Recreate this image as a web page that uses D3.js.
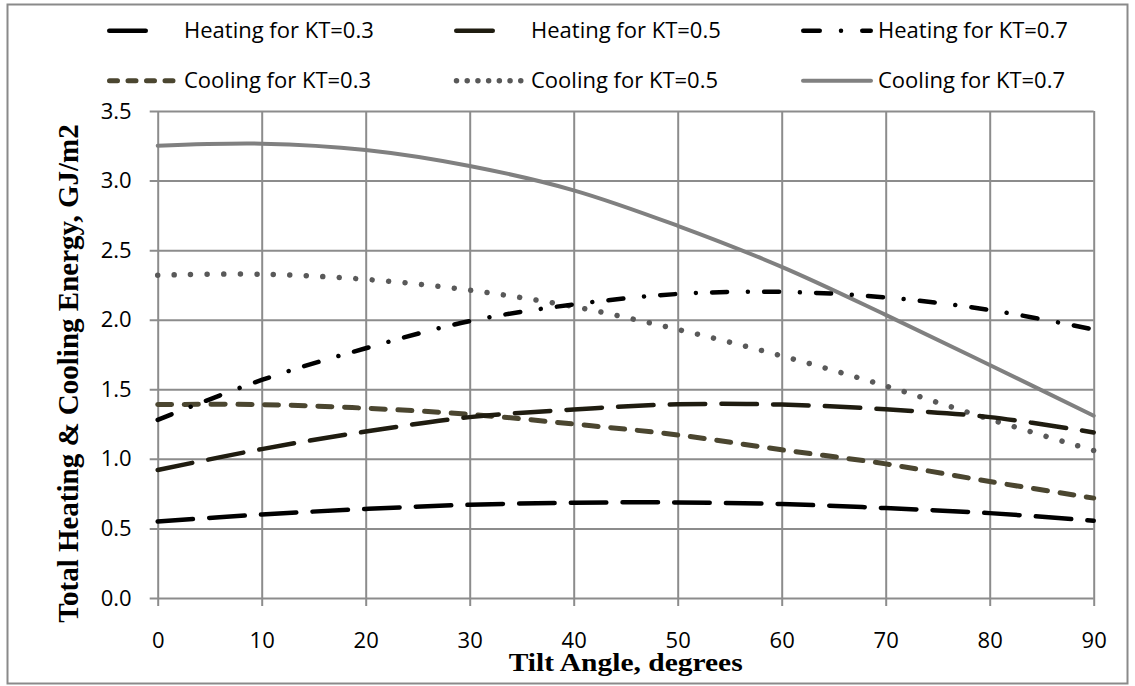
<!DOCTYPE html>
<html>
<head>
<meta charset="utf-8">
<script src="https://cdn.jsdelivr.net/npm/d3@7"></script>
<style>
  body { margin: 0; background: #fff; }
  text { font-family: "Open Sans", sans-serif; }
</style>
</head>
<body>
<div id="chart"></div>
<script>
// Tilt angles (degrees) on the x axis.
const angles = [0, 10, 20, 30, 40, 50, 60, 70, 80, 90];

// Energy values, GJ/m2.
const heat03 = [0.55, 0.60, 0.64, 0.67, 0.685, 0.687, 0.675, 0.646, 0.61, 0.555];
const heat05 = [0.92, 1.07, 1.196, 1.30, 1.355, 1.392, 1.39, 1.356, 1.30, 1.19];
const heat07 = [1.28, 1.567, 1.795, 1.99, 2.11, 2.185, 2.20, 2.16, 2.07, 1.93];
const cool03 = [1.39, 1.39, 1.364, 1.32, 1.25, 1.172, 1.065, 0.964, 0.837, 0.718];
const cool05 = [2.32, 2.327, 2.29, 2.212, 2.094, 1.93, 1.74, 1.524, 1.285, 1.06];
const cool07 = [3.25, 3.265, 3.22, 3.105, 2.93, 2.675, 2.38, 2.035, 1.675, 1.31];

const seriesNames = ["Heating for KT=0.3", "Heating for KT=0.5", "Heating for KT=0.7",
                     "Cooling for KT=0.3", "Cooling for KT=0.5", "Cooling for KT=0.7"];
const xTicks = [0, 10, 20, 30, 40, 50, 60, 70, 80, 90];
const yTicks = [0, 0.5, 1.0, 1.5, 2.0, 2.5, 3.0, 3.5];

const W = 1135, H = 686;
const svg = d3.select("#chart").append("svg")
  .attr("width", W)
  .attr("height", H);

// Outer frame of the chart.
svg.append("rect")
  .attr("x", 7.5).attr("y", 4.5)
  .attr("width", 1120).attr("height", 679)
  .attr("fill", "#fff")
  .attr("stroke", "#8a8a8a")
  .attr("stroke-width", 2);

// Plot area.
const plotL = 157.7, plotR = 1093.7, plotT = 111, plotB = 598;
const x = d3.scaleLinear().domain([0, 90]).range([plotL, plotR]);
const y = d3.scaleLinear().domain([0, 3.5]).range([plotB, plotT]);

const gridColor = "#8c8c8c";

// Horizontal gridlines + y labels.
const yAxis = svg.append("g")
  .attr("transform", `translate(${plotL},0)`)
  .call(d3.axisLeft(y).tickValues(yTicks).tickFormat(d3.format(".1f"))
    .tickSize(-(plotR - plotL)).tickPadding(26));
yAxis.select(".domain").remove();
yAxis.selectAll(".tick line")
  .attr("x1", -8)
  .attr("stroke", gridColor)
  .attr("stroke-width", 2);
yAxis.selectAll(".tick text")
  .attr("fill", "#000")
  .style("font-size", "22px")
  .style("font-family", "'Open Sans', sans-serif");

// Vertical gridlines + x labels.
const xAxis = svg.append("g")
  .attr("transform", `translate(0,${plotB})`)
  .call(d3.axisBottom(x).tickValues(xTicks)
    .tickSize(-(plotB - plotT)).tickPadding(34));
xAxis.select(".domain").remove();
xAxis.selectAll(".tick line")
  .attr("y1", 8)
  .attr("stroke", gridColor)
  .attr("stroke-width", 2);
xAxis.selectAll(".tick text")
  .attr("fill", "#000")
  .style("font-size", "22px")
  .style("font-family", "'Open Sans', sans-serif");

// Line styles for each series.
const styles = [
  { color: "#000000", width: 4.5, dash: "35.5,16.2" },
  { color: "#1f1c10", width: 4.5, dash: "35.5,16.2" },
  { color: "#000000", width: 4.5, dash: "15,20.75,0.01,16.24" },
  { color: "#4b4630", width: 5, dash: "14,12.7" },
  { color: "#595959", width: 5.5, dash: "0.01,16.5" },
  { color: "#808080", width: 4, dash: null }
];
const allSeries = [heat03, heat05, heat07, cool03, cool05, cool07];

const line = d3.line()
  .x((d, i) => x(angles[i]))
  .y(d => y(d))
  .curve(d3.curveCatmullRom.alpha(0.5));

// Draw cooling first so heating sits over the grey lines.
[5, 4, 3, 0, 1, 2].forEach(k => {
  const s = styles[k];
  svg.append("path")
    .datum(allSeries[k])
    .attr("d", line)
    .attr("fill", "none")
    .attr("stroke", s.color)
    .attr("stroke-width", s.width)
    .attr("stroke-linecap", "round")
    .attr("stroke-dasharray", s.dash);
});

// Legend: two rows, three columns.
const legendCols = [107, 454, 801];
const legendRows = [30.7, 80.7];
const legendSamples = [
  { x0: 2.25, x1: 60, dash: "36.5,21.25,0.01,100" },
  { x0: 2.25, x1: 60, dash: "36.5,21.25,0.01,100" },
  { x0: 2.25, x1: 69.75, dash: "16.5,21.25,0.01,21.24" },
  { x0: 2.5, x1: 68, dash: "8,10.5" },
  { x0: 2.5, x1: 70, dash: "0.01,10.7" },
  { x0: 2, x1: 70, dash: null }
];

seriesNames.forEach((name, k) => {
  const gx = legendCols[k % 3], gy = legendRows[Math.floor(k / 3)];
  const s = styles[k], ls = legendSamples[k];
  const g = svg.append("g").attr("transform", `translate(${gx},${gy})`);
  g.append("line")
    .attr("x1", ls.x0).attr("x2", ls.x1)
    .attr("y1", 0).attr("y2", 0)
    .attr("stroke", s.color)
    .attr("stroke-width", s.width)
    .attr("stroke-linecap", "round")
    .attr("stroke-dasharray", ls.dash);
  g.append("text")
    .attr("x", 77)
    .attr("y", 0)
    .attr("dy", "0.35em")
    .style("font-size", "22px")
    .text(name);
});

// Axis titles.
svg.append("text")
  .attr("x", (plotL + plotR) / 2)
  .attr("y", 671)
  .attr("text-anchor", "middle")
  .attr("textLength", 234)
  .attr("lengthAdjust", "spacingAndGlyphs")
  .style("font-family", "'Liberation Serif', 'Times New Roman', serif")
  .style("font-weight", "bold")
  .style("font-size", "26px")
  .text("Tilt Angle, degrees");

svg.append("text")
  .attr("transform", "translate(78,373.5) rotate(-90)")
  .attr("text-anchor", "middle")
  .style("font-family", "'Liberation Serif', 'Times New Roman', serif")
  .style("font-weight", "bold")
  .style("font-size", "29px")
  .text("Total Heating & Cooling Energy, GJ/m2");
</script>
</body>
</html>
